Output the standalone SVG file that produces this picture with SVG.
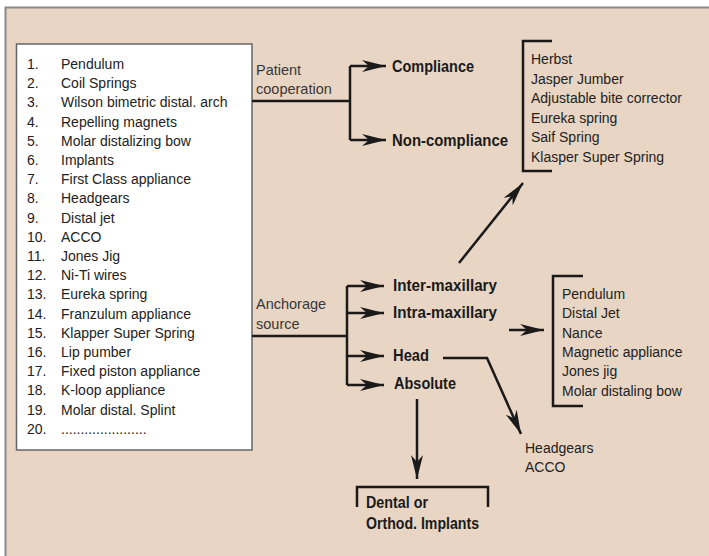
<svg xmlns="http://www.w3.org/2000/svg" width="709" height="556" viewBox="0 0 709 556">
<defs>
<marker id="ah" markerUnits="userSpaceOnUse" viewBox="-24 -6 24 12" markerWidth="24" markerHeight="12" refX="0" refY="0" orient="auto">
<path d="M0,0 L-24,-6 L-17,0 L-24,6 Z" fill="#1a1a1a"/>
</marker>
</defs>
<style>
text{font-family:"Liberation Sans",Arial,sans-serif;font-size:14px;fill:#222}
.b{font-weight:bold;font-size:16.5px;fill:#1a1a1a}
.s{font-size:14.5px;fill:#383838}
.ln{fill:none;stroke:#1a1a1a;stroke-width:2.5}
.ar{fill:none;stroke:#1a1a1a;stroke-width:2.5;marker-end:url(#ah)}
</style>
<rect x="0" y="0" width="709" height="556" fill="#ffffff"/>
<rect x="5.5" y="7.5" width="720" height="570" fill="#e8d5c3" stroke="#8a8a8a" stroke-width="2"/>

<g id="list">
<rect x="16.5" y="44" width="235.5" height="406" fill="#ffffff" stroke="#666" stroke-width="1.5"/>
<g>
<text x="27" y="69">1.</text><text x="61" y="69">Pendulum</text>
<text x="27" y="88.2">2.</text><text x="61" y="88.2">Coil Springs</text>
<text x="27" y="107.4">3.</text><text x="61" y="107.4">Wilson bimetric distal. arch</text>
<text x="27" y="126.6">4.</text><text x="61" y="126.6">Repelling magnets</text>
<text x="27" y="145.8">5.</text><text x="61" y="145.8">Molar distalizing bow</text>
<text x="27" y="165">6.</text><text x="61" y="165">Implants</text>
<text x="27" y="184.2">7.</text><text x="61" y="184.2">First Class appliance</text>
<text x="27" y="203.4">8.</text><text x="61" y="203.4">Headgears</text>
<text x="27" y="222.6">9.</text><text x="61" y="222.6">Distal jet</text>
<text x="27" y="241.8">10.</text><text x="61" y="241.8">ACCO</text>
<text x="27" y="261">11.</text><text x="61" y="261">Jones Jig</text>
<text x="27" y="280.2">12.</text><text x="61" y="280.2">Ni-Ti wires</text>
<text x="27" y="299.4">13.</text><text x="61" y="299.4">Eureka spring</text>
<text x="27" y="318.6">14.</text><text x="61" y="318.6">Franzulum appliance</text>
<text x="27" y="337.8">15.</text><text x="61" y="337.8">Klapper Super Spring</text>
<text x="27" y="357">16.</text><text x="61" y="357">Lip pumber</text>
<text x="27" y="376.2">17.</text><text x="61" y="376.2">Fixed piston appliance</text>
<text x="27" y="395.4">18.</text><text x="61" y="395.4">K-loop appliance</text>
<text x="27" y="414.6">19.</text><text x="61" y="414.6">Molar distal. Splint</text>
<text x="27" y="433.8">20.</text><text x="61" y="433.8">......................</text>
</g>
</g>

<g id="patient-cooperation">
<text class="s" x="256" y="75">Patient</text>
<text class="s" x="256" y="94">cooperation</text>
</g>
<g id="compliance"><text class="b" x="392" y="72" textLength="82" lengthAdjust="spacingAndGlyphs">Compliance</text></g>
<g id="non-compliance"><text class="b" x="392" y="146" textLength="116" lengthAdjust="spacingAndGlyphs">Non-compliance</text></g>

<g id="functional-list">
<path class="ln" d="M552,41 H523 V171 H552"/>
<text x="531" y="64">Herbst</text>
<text x="531" y="83.5">Jasper Jumber</text>
<text x="531" y="103">Adjustable bite corrector</text>
<text x="531" y="122.5">Eureka spring</text>
<text x="531" y="142">Saif Spring</text>
<text x="531" y="161.5">Klasper Super Spring</text>
</g>

<g id="anchorage-source">
<text class="s" x="256" y="309">Anchorage</text>
<text class="s" x="256" y="329">source</text>
</g>
<g id="inter-maxillary"><text class="b" x="393" y="291" textLength="104" lengthAdjust="spacingAndGlyphs">Inter-maxillary</text></g>
<g id="intra-maxillary"><text class="b" x="393" y="318" textLength="104" lengthAdjust="spacingAndGlyphs">Intra-maxillary</text></g>
<g id="head"><text class="b" x="393" y="361" textLength="36" lengthAdjust="spacingAndGlyphs">Head</text></g>
<g id="absolute"><text class="b" x="394" y="389" textLength="62" lengthAdjust="spacingAndGlyphs">Absolute</text></g>

<g id="intra-list">
<path class="ln" d="M583,276 H553 V406 H583"/>
<text x="562" y="299">Pendulum</text>
<text x="562" y="318.3">Distal Jet</text>
<text x="562" y="337.6">Nance</text>
<text x="562" y="356.9">Magnetic appliance</text>
<text x="562" y="376.2">Jones jig</text>
<text x="562" y="395.5">Molar distaling bow</text>
</g>

<g id="head-list">
<text x="525" y="453">Headgears</text>
<text x="525" y="472">ACCO</text>
</g>

<g id="implants">
<path class="ln" d="M357,507 V487 H488 V507"/>
<text class="b" x="366" y="508" textLength="62" lengthAdjust="spacingAndGlyphs">Dental or</text>
<text class="b" x="366" y="529" textLength="113" lengthAdjust="spacingAndGlyphs">Orthod. Implants</text>
</g>

<g id="connectors">
<path class="ln" d="M252,101 H350"/>
<path class="ln" d="M350,66 V140"/>
<path class="ar" d="M350,66 H386"/>
<path class="ar" d="M350,140 H386"/>

<path class="ln" d="M252,336 H347"/>
<path class="ln" d="M347,286 V385"/>
<path class="ar" d="M347,286 H384"/>
<path class="ar" d="M347,313 H384"/>
<path class="ar" d="M347,356 H384"/>
<path class="ar" d="M347,385 H384"/>

<path class="ar" d="M459,263 L523,183"/>
<path class="ar" d="M509,330 H544"/>
<path class="ar" d="M443,358 H487 L521,434"/>
<path class="ar" d="M417,399 V479"/>
</g>
</svg>
